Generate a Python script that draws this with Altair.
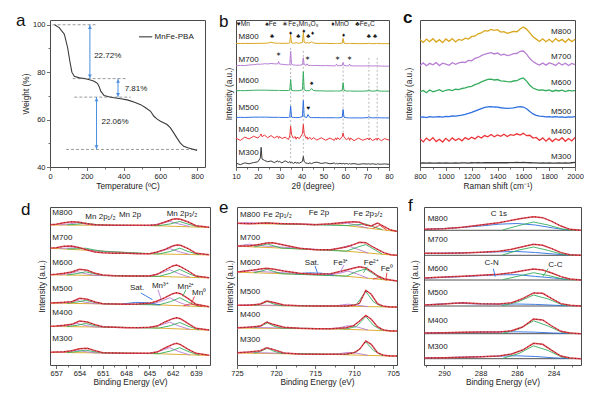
import altair as alt
import pandas as pd

FONT = "Liberation Sans"
INK = "#222222"
FRAME = "#4a4a4a"
RED = "#e8404c"
ARROW = "#4a8fe0"

SAMPLES = ["M800", "M700", "M600", "M500", "M400", "M300"]
SAMPLE_COLORS = ["#d9a61e", "#b87fd4", "#35ad5e", "#2d6fe0", "#ea3538", "#3c3c3c"]
SAMPLE_WIDTHS = [1.0, 1.0, 1.0, 1.0, 1.1, 0.9]
COMP_NAMES = ["bg", "cyan", "blue", "pink", "orange", "base"]
COMP_COLORS = ["#a874cf", "#27bcc0", "#3b7be0", "#d883d6", "#f2b705", "#3cc3d4"]

# ---------------- panel a : TGA ----------------
TGA_T = [25, 50, 78, 96, 108, 119, 132, 160, 186, 215, 240, 258, 267, 276, 294, 320, 348, 385, 420, 460,
         493, 520, 547, 565, 583, 601, 637, 655, 673, 690, 709, 727, 750, 773, 800]
TGA_W = [100, 98.8, 96, 90.3, 84.6, 80, 78.3, 77.6, 77.3, 76.8, 76.2, 75.3, 74, 72, 70.1, 69.6, 69.2, 68.8, 68.3, 67.3,
         66.3, 65, 63.5, 61.4, 60.2, 59.3, 57.9, 56.5, 54.4, 52.3, 50.1, 48.7, 48.1, 47.6, 47]
TGA_STEP_LABELS = ["22.72%", "7.81%", "22.06%"]
TGA_LABEL_T = [240, 406, 280]
TGA_LABEL_W = [87, 72.7, 58.9]
TGA_DASH_T1 = [14, 123, 132, 87]
TGA_DASH_T2 = [258, 417, 439, 800]
TGA_DASH_W = [100, 77.28, 69.47, 47.41]
TGA_ARROW_T = [217, 370, 253]
TGA_ARROW_TOP = [100, 77.28, 69.47]
TGA_ARROW_BOT = [77.28, 69.47, 47.41]
TGA_LEGEND = ["MnFe-PBA"]

# ---------------- panel b : XRD ----------------
XRD_X = [10, 12, 14, 16, 18, 20, 21.1, 21.5, 21.9, 23, 24.5, 26, 27.5, 29.1, 29.5, 29.9, 31, 32.5, 34, 34.6,
         35.0, 35.4, 36.2, 37.1, 37.5, 37.9, 39, 40.4, 40.8, 41.2, 42.1, 42.5, 42.9, 43.8, 44.6, 45.4, 47, 49, 51, 53,
         55, 55.6, 56.0, 56.4, 57.5, 58.6, 59.0, 59.4, 60.5, 61.6, 62.0, 62.4, 64, 66, 68, 70.4, 70.8, 71.2, 72.5, 74.2,
         74.6, 75.0, 76.5, 78, 80]
XRD_M800 = [0.2, 0.1, 0.2, 0.1, 0.2, 0.2, 0.2, 0.3, 0.2, 0.3, 0.4, 1.0, 0.4, 0.3, 0.3, 0.3, 0.2, 0.3, 0.3, 0.5,
            5.9, 0.6, 0.3, 0.4, 0.9, 0.4, 0.3, 0.8, 7.5, 0.9, 0.4, 0.9, 0.5, 0.5, 1.3, 0.5, 0.2, 0.2, 0.2, 0.1,
            0.1, 0.1, 0.2, 0.1, 0.2, 0.4, 3.6, 0.4, 0.1, 0.1, 0.1, 0.1, 0.1, 0.0, 0.0, 0.1, 0.4, 0.1, 0.0, 0.1,
            0.3, 0.1, 0.0, 0.0, 0.0]
XRD_M700 = [0.3, 0.5, 0.4, 0.8, 1.0, 1.4, 1.2, 1.6, 1.3, 1.7, 1.5, 1.8, 1.6, 1.5, 3.2, 1.4, 1.3, 1.0, 0.9, 1.2,
            10.2, 1.3, 0.8, 0.7, 0.6, 0.7, 0.6, 1.0, 5.7, 1.0, 0.6, 1.6, 0.6, 0.5, 0.5, 0.4, 0.5, 0.3, 0.4, 0.3,
            0.2, 0.3, 1.4, 0.3, 0.3, 0.5, 2.5, 0.5, 0.2, 0.3, 1.4, 0.3, 0.1, 0.2, 0.1, 0.2, 0.5, 0.2, 0.1, 0.2,
            0.4, 0.1, 0.1, 0.0, 0.0]
XRD_M600 = [0.2, 0.4, 0.3, 0.5, 0.6, 0.7, 0.6, 0.8, 0.6, 0.7, 0.6, 0.6, 0.5, 0.5, 0.5, 0.5, 0.4, 0.4, 0.4, 0.6,
            8.0, 0.6, 0.3, 0.3, 0.3, 0.3, 0.3, 0.9, 13.2, 0.9, 0.3, 0.3, 0.3, 0.4, 1.8, 0.4, 0.2, 0.2, 0.1, 0.1,
            0.1, 0.1, 0.1, 0.1, 0.1, 0.5, 5.7, 0.5, 0.1, 0.1, 0.1, 0.1, 0.0, 0.0, 0.0, 0.2, 1.0, 0.2, 0.0, 0.2,
            1.0, 0.2, 0.0, 0.0, 0.0]
XRD_M500 = [0.3, 0.4, 0.3, 0.4, 0.5, 0.5, 0.5, 0.6, 0.5, 0.5, 0.5, 0.4, 0.4, 0.4, 0.4, 0.4, 0.3, 0.3, 0.3, 0.6,
            8.0, 0.6, 0.3, 0.2, 0.2, 0.2, 0.3, 0.9, 11.8, 0.9, 0.3, 0.4, 2.3, 0.3, 0.2, 0.2, 0.2, 0.1, 0.1, 0.1,
            0.1, 0.1, 0.1, 0.1, 0.1, 0.5, 5.7, 0.5, 0.1, 0.0, 0.0, 0.0, 0.0, 0.0, 0.0, 0.2, 1.0, 0.2, 0.0, 0.1,
            0.7, 0.1, 0.0, 0.0, 0.0]
XRD_M400 = [0.5, -1.0, 1.2, 0.0, 1.8, 0.6, 2.4, 3.4, 1.5, 2.6, 0.8, 2.3, 0.7, 1.9, 0.4, 1.6, 0.3, 1.2, -0.4, 2.0,
            8.6, 3.0, 0.6, 1.6, -0.2, 1.2, 0.2, 3.5, 9.8, 3.6, 0.4, 1.4, -0.3, 1.1, -0.5, 0.9, -0.8, 0.8, -0.9, 0.6,
            -1.0, 0.7, -0.6, 0.8, -0.4, 1.6, 4.0, 1.5, -0.6, 0.8, -1.0, 0.6, -1.2, 0.5, -0.9, 0.4, -0.7, 0.6, -1.1, 0.3,
            -0.9, 0.5, -1.2, 0.2, -0.8]
XRD_M300 = [0.6, -0.4, 0.8, 0.2, 1.0, 1.5, 4.0, 11.4, 3.5, 2.5, 1.6, 2.1, 1.0, 2.2, 1.3, 1.8, 0.8, 2.2, 0.9, 1.8,
            0.6, 1.4, 0.4, 1.3, 0.5, 1.0, 0.6, 1.8, 5.2, 1.6, 0.4, 0.9, 0.2, 0.8, 0.3, 0.9, 1.3, 0.4, 0.9, 0.2,
            0.7, 0.1, 0.6, 0.0, 0.5, 0.1, 0.6, 0.0, 0.4, -0.1, 0.4, 0.0, 0.3, -0.2, 0.2, 0.0, 0.3, -0.1, 0.2, -0.2,
            0.2, 0.0, -0.1, 0.1, -0.2]
XRD_BASE = [83.9, 68.6, 51.6, 33.4, 19.1, 2.0]
XRD_REF_X = [35.0, 40.8, 59.0, 70.8, 74.6]
XRD_REF_Y1 = [81, 79, 71, 74.3, 74.3]
XRD_REF_Y2 = [5, 3.9, 18.6, 17.5, 17.5]
XRD_KEY_TEXT = ["♥Mn", "♠Fe", "∗Fe₃Mn₃O₈", "♦MnO", "♣Fe₃C"]
XRD_KEY_X = [10.4, 23.4, 31.2, 53.6, 64.6]
XRD_KEY_Y = 97.0
XRD_MARK_SYM = ["♣", "♦", "♣", "♦", "♣", "♦", "♦", "♣", "♣", "∗", "∗", "∗", "∗", "♠", "♥"]
XRD_MARK_X = [26.5, 35.0, 38.5, 41.0, 43.1, 45.0, 59.2, 70.7, 73.6, 29.3, 42.9, 56.4, 62.1, 44.6, 43.1]
XRD_MARK_Y = [89.1, 91.0, 89.0, 92.6, 89.0, 91.0, 89.8, 89.1, 89.1, 77.0, 74.3, 74.3, 73.9, 57.3, 39.8]
XRD_LABEL_Y = [88.4, 73, 58.4, 40.2, 25.5, 9.5]

# ---------------- panel c : Raman ----------------
RAMAN_X = [800, 825, 850, 875, 900, 925, 950, 975, 1000, 1025, 1050, 1075, 1100, 1125, 1150, 1175, 1200, 1225,
           1250, 1275, 1300, 1325, 1350, 1375, 1400, 1425, 1450, 1475, 1500, 1525, 1550, 1575, 1600, 1625, 1650,
           1675, 1700, 1725, 1750, 1775, 1800, 1825, 1850, 1875, 1900, 1925, 1950, 1975, 2000]
RAMAN_M800 = [0.5, -1.2, 1.0, -0.8, 1.3, -1.0, 0.6, -1.4, 1.1, -0.5, 1.4, -0.9, 0.8, 0.2, 1.6, 1.0, 2.8, 3.0, 4.6, 5.2,
              6.8, 6.5, 7.6, 6.9, 7.4, 5.8, 6.1, 4.9, 5.6, 6.2, 6.0, 7.9, 9.2, 7.8, 5.2, 2.6, 1.0, -0.6, 1.2, -0.8,
              0.9, -1.1, 1.3, -0.4, 0.8, -1.2, 1.1, -0.7, 0.9]
RAMAN_M700 = [-0.8, 0.9, -1.0, 0.6, -0.4, 1.1, -0.9, 0.7, 0.1, -0.7, 1.0, 0.0, 0.9, 1.5, 1.2, 2.6, 2.4, 4.0, 4.6, 5.9,
              6.8, 7.4, 7.9, 7.0, 7.6, 6.2, 6.8, 5.9, 6.4, 7.2, 7.3, 8.8, 9.0, 6.9, 3.9, 1.8, 0.4, -0.5, 0.8, -0.6,
              0.9, 0.2, -0.8, 1.0, -0.5, 0.7, -0.9, 0.6, -0.3]
RAMAN_M600 = [-0.6, 0.5, -1.1, 0.8, -0.4, 0.2, 1.0, -0.3, 0.6, 1.0, 0.4, 1.3, 1.0, 1.8, 2.2, 2.9, 3.3, 4.4, 5.1, 6.3,
              7.2, 8.0, 8.2, 7.6, 7.9, 7.0, 6.8, 6.5, 6.3, 6.9, 7.1, 8.3, 9.0, 6.8, 4.0, 2.1, 1.2, 0.6, 0.9, 0.3,
              0.8, -0.2, 0.6, 0.1, 0.7, -0.3, 0.5, 0.2, 0.4]
RAMAN_M500 = [0.0, 0.3, -0.2, 0.4, 0.1, 0.3, 0.5, 0.2, 0.6, 0.5, 0.9, 0.8, 1.2, 1.5, 2.0, 2.6, 3.3, 4.2, 5.1, 5.9,
              6.7, 7.1, 7.3, 7.0, 6.9, 6.5, 6.3, 6.1, 6.2, 6.4, 6.9, 7.2, 7.0, 5.8, 3.9, 2.3, 1.3, 0.8, 0.6, 0.3,
              0.5, 0.2, 0.4, 0.1, 0.3, 0.0, 0.2, 0.1, 0.4]
RAMAN_M400 = [0.8, -1.4, 1.2, -0.6, 1.5, -1.2, 0.4, -1.5, 1.0, -0.9, 1.3, -0.5, 0.9, -0.7, 1.5, 0.2, 1.8, 0.6, 2.4, 1.2,
              2.9, 2.0, 3.6, 2.1, 3.3, 2.4, 3.8, 2.2, 3.5, 3.0, 4.1, 3.2, 4.4, 2.8, 3.1, 1.2, 1.6, -0.4, 1.3, -0.9,
              1.1, -1.2, 0.7, -0.5, 1.4, -1.0, 0.9, -0.8, 1.6]
RAMAN_M300 = [0.0, 0.1, -0.1, 0.1, 0.0, -0.1, 0.1, 0.0, 0.1, -0.1, 0.0, 0.1, 0.0, 0.1, 0.1, 0.0, 0.2, 0.1, 0.2, 0.1,
              0.3, 0.2, 0.3, 0.2, 0.3, 0.2, 0.3, 0.2, 0.3, 0.3, 0.4, 0.3, 0.4, 0.3, 0.2, 0.1, 0.1, 0.0, 0.1, 0.0,
              0.1, -0.1, 0.0, 0.1, 0.0, 0.1, 0.0, 0.2, 0.4]
RAMAN_BASE = [86, 69.9, 51.6, 33.8, 18.5, 2.7]
RAMAN_LABEL_Y = [91.8, 74.9, 57.1, 37.7, 23.5, 6.8]

# ---------------- panel d : Mn 2p ----------------
D_X = [657.8, 657, 656, 655, 654, 653, 652, 651, 649.5, 648, 646.5, 645, 644, 643, 642, 641.5, 641, 640, 639, 637.3]
D_ENV = [
    [140.3, 140.7, 142.3, 143.3, 142.7, 141.3, 140.3, 140, 139.7, 139.7, 139.7, 139.7, 140.3, 143, 145.7, 146.3, 145.7, 143, 139.3, 137.7],
    [117, 117.3, 118.7, 119, 117.3, 115, 113, 112.3, 111.7, 111.7, 111.3, 111.3, 113, 115.7, 119, 120, 119.7, 116.3, 111.7, 110.3],
    [90.3, 90.7, 91.7, 93, 95.7, 94.7, 91.7, 90, 89.3, 89, 89, 89, 90.7, 95, 99, 100, 98.3, 94, 89, 87.3],
    [62, 62.3, 62.7, 63.3, 66.7, 65.7, 63, 61.3, 61, 60.7, 61, 61.7, 64, 67.3, 71.3, 72.3, 71.3, 66.3, 60.7, 58.3],
    [38.7, 39, 39.7, 40.7, 44, 43, 40.3, 38.3, 37.7, 37.3, 37.3, 37.7, 39, 43, 46.3, 47.3, 46.3, 41.3, 36.7, 35],
    [12.7, 13, 13.3, 14.3, 16.3, 16.7, 14.3, 12.3, 12, 11.7, 11.7, 11.7, 13, 17, 20.7, 21.7, 20.3, 15.7, 11.7, 9.7],
]
D_BG_X = [657.8, 645, 637.3]
D_BG = [[140.0, 139.5, 137.5], [116.8, 111.2, 110.1], [90.2, 88.8, 87.1],
        [61.9, 60.5, 58.1], [38.6, 37.3, 34.8], [12.6, 11.6, 9.5]]
D_CYAN_X = [656.6, 655.3, 654.3, 653.3, 652.0, 645.0, 643.6, 642.4, 641.2, 639.8]
D_CYAN = [
    [140.1, 141.1, 142.3, 141.0, 139.9, 139.5, 141.3, 143.6, 141.0, 138.6],
    [116.6, 116.9, 117.6, 115.8, 114.2, 111.2, 113.5, 116.4, 113.3, 110.5],
    [90.1, 91.5, 93.3, 91.3, 89.6, 88.8, 91.7, 95.3, 91.3, 87.8],
    [61.8, 62.9, 64.5, 62.8, 61.3, 60.5, 63.5, 67.2, 62.7, 58.9],
    [38.5, 39.8, 41.6, 39.6, 38.0, 37.3, 39.7, 42.9, 39.0, 35.6],
    [12.5, 13.5, 14.9, 13.4, 12.1, 11.6, 14.1, 17.3, 13.4, 10.1],
]
D_BLUE_X = [655.6, 654.3, 653.2, 652.1, 650.8, 643.8, 642.3, 641.1, 639.9, 638.6]
D_BLUE = [
    [140.1, 140.8, 141.8, 140.7, 139.8, 139.3, 141.1, 143.5, 140.6, 138.0],
    [116.1, 116.3, 116.8, 115.1, 113.5, 111.0, 113.6, 116.8, 113.2, 110.3],
    [90.0, 91.4, 93.2, 91.2, 89.4, 88.6, 91.7, 95.6, 91.2, 87.5],
    [61.7, 63.0, 64.6, 62.7, 61.1, 60.1, 63.3, 67.3, 62.5, 58.5],
    [38.4, 39.7, 41.5, 39.5, 37.9, 36.9, 39.3, 42.5, 38.5, 35.2],
    [12.4, 13.5, 14.8, 13.3, 12.0, 11.3, 13.9, 17.3, 13.2, 9.8],
]
D_SAT_X = [648.5, 646.8, 645.2, 643.6]
D_SAT_M500 = [61.0, 62.6, 62.3, 60.1]
D_MN0_X = [640.6, 639.8, 639.0, 638.2]
D_MN0_M500 = [59.2, 61.0, 60.0, 58.4]
D_LABEL_Y = [151.7, 127.3, 102.3, 75.7, 51.7, 25.7]
D_NOTE_TEXT = ["Mn 2p₁/₂", "Mn 2p", "Mn 2p₃/₂", "Sat.", "Mn³⁺", "Mn²⁺", "Mn⁰"]
D_NOTE_X = [651.3, 647.5, 640.8, 646.6, 643.6, 640.3, 638.6]
D_NOTE_Y = [148.3, 150.5, 151.3, 77.0, 78.7, 77.7, 72.0]
D_PTR_X1 = [646.1, 643.9, 640.3, 639.2]
D_PTR_Y1 = [72.0, 75.3, 75.3, 68.5]
D_PTR_X2 = [644.6, 643.5, 640.7, 639.6]
D_PTR_Y2 = [65.3, 66.0, 68.7, 61.5]
D_PTR_COMP = ["pink", "cyan", "blue", "orange"]

# ---------------- panel e : Fe 2p ----------------
E_X = [725, 723.5, 722, 721.2, 720.4, 719, 717, 715, 713, 711, 710, 709.3, 708.5, 707.8, 707, 706.2, 705.3, 704.5]
E_ENV = [
    [141.7, 141.3, 141.7, 142, 141.7, 141.3, 141, 140.3, 141.3, 142.7, 143.3, 142.7, 140, 139, 142, 138.7, 135, 133.7],
    [119, 119, 120.7, 122, 122.3, 120, 116.7, 115.3, 115.3, 118, 120.7, 122.7, 122.3, 119, 115.7, 112.3, 110.3, 109.7],
    [93, 94.3, 96, 96.7, 96, 94, 91.7, 90.7, 91.3, 95, 97, 98.3, 97, 93.7, 89.3, 86.3, 85, 84],
    [59.7, 59.7, 61, 64, 62.7, 60, 59.3, 59, 59, 59, 59.7, 61.7, 74.7, 70.7, 61.3, 58.7, 58, 58],
    [37.3, 37.7, 39, 43, 40.7, 37.7, 36.7, 36.3, 36.3, 37.3, 39.7, 44, 49.7, 45.7, 38.3, 35, 34, 34],
    [12.3, 13, 14.3, 17.3, 15.7, 12, 11, 10.7, 10.7, 11, 12.3, 15.7, 24, 20.7, 12.3, 9.7, 9, 9],
]
E_BG_X = [725, 712, 704.5]
E_BG = [[141.5, 140.3, 133.5], [118.8, 114.5, 109.5], [92.8, 89.5, 84.0],
        [59.6, 58.9, 57.9], [37.0, 36.0, 33.8], [12.0, 10.4, 8.8]]
E_CYAN_X = [725.0, 724.2, 723.4, 722.6, 713.4, 712.0, 710.8, 709.6, 708.2]
E_CYAN = [
    [141.5, 142.3, 142.4, 141.8, 140.4, 141.3, 141.8, 139.6, 136.9],
    [118.8, 120.0, 120.8, 119.5, 115.0, 116.5, 119.2, 116.0, 112.0],
    [92.8, 94.0, 94.8, 93.7, 89.9, 91.5, 94.0, 91.0, 86.7],
    [59.6, 60.1, 60.4, 59.9, 59.1, 59.6, 60.8, 59.8, 58.4],
    [37.0, 37.6, 38.1, 37.5, 36.2, 37.0, 39.3, 38.0, 35.0],
    [12.0, 12.6, 13.0, 12.4, 10.6, 11.2, 12.6, 11.8, 9.6],
]
E_BLUE_X = [722.8, 721.9, 721.1, 720.3, 719.3, 711.0, 709.7, 708.5, 707.5, 706.4]
E_BLUE = [
    [141.3, 141.8, 142.4, 141.6, 141.0, 139.4, 140.3, 141.0, 138.2, 135.4],
    [118.1, 119.6, 121.0, 119.2, 116.9, 113.8, 117.5, 120.4, 116.0, 110.9],
    [92.2, 94.0, 95.6, 93.6, 91.3, 88.8, 93.4, 96.0, 91.0, 85.5],
    [59.5, 61.0, 63.4, 61.0, 59.3, 58.8, 60.5, 73.5, 63.0, 58.2],
    [37.1, 39.2, 42.0, 39.0, 36.9, 36.2, 38.5, 48.5, 39.5, 34.6],
    [12.0, 14.0, 16.8, 13.8, 11.6, 10.6, 13.0, 23.0, 14.5, 9.5],
]
E_FE0_X = [707.6, 706.7, 705.8]
E_FE0_M800 = [136.6, 139.8, 134.8]
E_FE0_M600 = [85.9, 87.6, 84.6]
E_SAT_X = [717.5, 715.8, 714.2, 712.6]
E_SAT_M600 = [91.1, 92.2, 91.8, 89.8]
E_LABEL_Y = [149.7, 127.3, 102.3, 73, 49.7, 24.7]
E_NOTE_TEXT = ["Fe 2p₁/₂", "Fe 2p", "Fe 2p₃/₂", "Sat.", "Fe³⁺", "Fe²⁺", "Fe⁰"]
E_NOTE_X = [719.8, 714.5, 708.2, 715.4, 711.7, 707.8, 705.8]
E_NOTE_Y = [149.7, 151.7, 150.7, 101.7, 102.3, 102.3, 96.3]
E_PTR_X1 = [715.0, 711.3, 708.3, 705.8]
E_PTR_Y1 = [99.0, 100.0, 98.3, 92.3]
E_PTR_X2 = [714.7, 711.8, 708.8, 705.9]
E_PTR_Y2 = [92.3, 92.3, 92.3, 86.3]
E_PTR_COMP = ["pink", "cyan", "blue", "orange"]

# ---------------- panel f : C 1s ----------------
F_X = [291.1, 290, 289, 288, 287, 286.3, 285.7, 285.1, 284.6, 284.1, 283.6, 283.1, 282.5]
F_ENV = [
    [135.7, 136.3, 137.7, 140, 142.3, 144.7, 146.7, 148.3, 147.3, 143.7, 139, 135.7, 134.7],
    [111.7, 111.7, 112, 112.7, 113.7, 115.7, 118.3, 120.7, 119.7, 116.3, 112.3, 110.3, 109.7],
    [87, 88, 88.7, 89.7, 90.7, 92.3, 94.3, 96, 95, 92, 88.3, 86, 85],
    [60, 61, 62.3, 61.3, 61, 62.3, 66.3, 72, 71.7, 66.3, 61.3, 59.7, 59],
    [32, 32.3, 32.7, 33, 33, 34.3, 38, 46, 45, 39, 33.7, 32, 31.3],
    [7, 7.3, 7.7, 8.3, 9, 11, 15, 21.7, 20.7, 14.7, 9, 7, 6.3],
]
F_BASE_X = [291.1, 282.5]
F_BASE_LEVEL = [134.7, 109.7, 85.0, 59.0, 31.3, 6.3]
F_PINK_X = [291.1, 289.5, 288, 287, 286, 285, 284, 283.2]
F_PINK = [
    [135.6, 137.0, 139.0, 140.8, 141.5, 140.0, 137.0, 135.0],
    [111.7, 112.0, 112.6, 113.2, 113.5, 112.5, 111.0, 110.0],
    [86.8, 88.0, 89.3, 90.2, 90.3, 88.6, 87.0, 85.5],
    [60.0, 61.8, 61.0, 60.8, 61.0, 60.6, 59.8, 59.2],
    [32.0, 32.4, 32.8, 33.0, 33.2, 32.8, 32.0, 31.5],
    [7.0, 7.6, 8.3, 8.9, 9.2, 8.5, 7.2, 6.5],
]
F_BLUE_X = [286.8, 285.9, 285.1, 284.3, 283.5, 282.8]
F_BLUE = [
    [135.0, 139.5, 143.0, 140.0, 135.8, 134.8],
    [110.0, 115.0, 118.0, 114.6, 110.5, 109.8],
    [85.3, 89.0, 92.3, 89.5, 86.0, 85.1],
    [59.3, 63.5, 70.0, 66.0, 60.0, 59.1],
    [31.6, 36.0, 44.2, 39.0, 32.4, 31.4],
    [6.6, 11.5, 19.2, 14.5, 7.5, 6.4],
]
F_LABEL_Y = [145.7, 125, 96.3, 71.7, 44, 18.3]
F_NOTE_TEXT = ["C 1s", "C-N", "C-C"]
F_NOTE_X = [287.0, 287.4, 283.9]
F_NOTE_Y = [150.7, 101.7, 99.7]
F_PTR_X1 = [287.3, 284.3]
F_PTR_Y1 = [96.3, 96.3]
F_PTR_X2 = [287.2, 284.6]
F_PTR_Y2 = [88.3, 88.3]
F_PTR_COMP = ["pink", "blue"]


# ================= helpers =================
def cond_tick(test):
    return {"condition": {"test": test, "value": 3.5}, "value": 2.0}


def xaxis(values, test, title, lp, tp, fmt="d"):
    return alt.Axis(values=values, title=title, labelExpr=f"({test}) ? datum.label : ''", format=fmt,
                    tickSize=cond_tick(test), labelPadding=lp, titlePadding=tp,
                    labelOverlap=False, labelFlush=False)


def hidden_y(tp):
    return alt.Axis(labels=False, ticks=False, title="Intensity (a.u.)", titlePadding=tp)


def letter(ch, dx, dy, weight="normal"):
    return alt.Chart(pd.DataFrame({"t": [ch]})).mark_text(
        align="left", baseline="alphabetic", fontSize=17, font=FONT, color="#111", fontWeight=weight
    ).encode(x=alt.value(dx), y=alt.value(dy), text="t:N")


def texts(X, Y, xs, ys, labels, align="left", size=8, color=INK):
    df = pd.DataFrame({"x": xs, "y": ys, "t": labels})
    return alt.Chart(df).mark_text(align=align, baseline="middle", fontSize=size, font=FONT, color=color).encode(
        x=X("x"), y=Y("y"), text="t:N")


SAMPLE_SCALE = alt.Scale(domain=SAMPLES, range=SAMPLE_COLORS)
COMP_SCALE = alt.Scale(domain=COMP_NAMES, range=COMP_COLORS)


# ================= panel a =================
def panel_a():
    xs = alt.Scale(domain=[0, 843], nice=False, zero=False)
    ys = alt.Scale(domain=[40, 102], nice=False, zero=False)
    xax = xaxis([0, 100, 200, 300, 400, 500, 600, 700, 800], "datum.value % 200 === 0", "Temperature (ºC)", 1.5, 1.5)
    yax = alt.Axis(values=[40, 50, 60, 70, 80, 90, 100], title="Weight (%)",
                   labelExpr="(datum.value % 20 === 0) ? datum.label : ''",
                   tickSize=cond_tick("datum.value % 20 === 0"), labelPadding=1.5, titlePadding=2,
                   labelOverlap=False)

    def X(f):
        return alt.X(f"{f}:Q", scale=xs, axis=xax)

    def Y(f):
        return alt.Y(f"{f}:Q", scale=ys, axis=yax)

    curve = alt.Chart(pd.DataFrame({"x": TGA_T, "y": TGA_W})).mark_line(color="#3a3a3a", strokeWidth=1.1).encode(
        x=X("x"), y=Y("y"))
    dashes = alt.Chart(pd.DataFrame({"x": TGA_DASH_T1, "x2": TGA_DASH_T2, "y": TGA_DASH_W})).mark_rule(
        color="#808080", strokeDash=[3, 2], strokeWidth=0.8).encode(x=X("x"), x2="x2:Q", y=Y("y"))
    arrows = alt.Chart(pd.DataFrame({"x": TGA_ARROW_T, "y": TGA_ARROW_TOP, "y2": TGA_ARROW_BOT})).mark_rule(
        color=ARROW, strokeWidth=1).encode(x=X("x"), y=Y("y"), y2="y2:Q")
    head_up = alt.Chart(pd.DataFrame({"x": TGA_ARROW_T, "y": TGA_ARROW_TOP})).mark_point(
        shape="triangle-up", filled=True, size=16, color=ARROW, opacity=1, yOffset=2.5).encode(x=X("x"), y=Y("y"))
    head_dn = alt.Chart(pd.DataFrame({"x": TGA_ARROW_T, "y": TGA_ARROW_BOT})).mark_point(
        shape="triangle-down", filled=True, size=16, color=ARROW, opacity=1, yOffset=-2.5).encode(x=X("x"), y=Y("y"))
    labels = texts(X, Y, TGA_LABEL_T, TGA_LABEL_W, TGA_STEP_LABELS, size=8)
    leg_line = alt.Chart(pd.DataFrame({"x": [484], "x2": [556], "y": [94.9]})).mark_rule(
        color="#3a3a3a", strokeWidth=1.1).encode(x=X("x"), x2="x2:Q", y=Y("y"))
    leg_text = texts(X, Y, [569], [94.9], TGA_LEGEND, size=8)
    return alt.layer(dashes, arrows, head_up, head_dn, curve, labels, leg_line, leg_text,
                     letter("a", -34, 6)).properties(width=155, height=147)


# ================= panel b =================
def panel_b():
    xs = alt.Scale(domain=[10, 80], nice=False, zero=False)
    ys = alt.Scale(domain=[0, 100], nice=False, zero=False)
    xax = xaxis([10, 15, 20, 25, 30, 35, 40, 45, 50, 55, 60, 65, 70, 75, 80], "datum.value % 10 === 0",
                "2θ (degree)", 1.5, 1.5)
    yax = hidden_y(3)

    def X(f):
        return alt.X(f"{f}:Q", scale=xs, axis=xax)

    def Y(f):
        return alt.Y(f"{f}:Q", scale=ys, axis=yax)

    data = [XRD_M800, XRD_M700, XRD_M600, XRD_M500, XRD_M400, XRD_M300]
    rows = []
    for s, base, ys_ in zip(SAMPLES, XRD_BASE, data):
        for x, dy in zip(XRD_X, ys_):
            rows.append({"x": x, "y": dy + base, "s": s})
    lines = alt.Chart(pd.DataFrame(rows)).mark_line().encode(
        x=X("x"), y=Y("y"), color=alt.Color("s:N", scale=SAMPLE_SCALE, legend=None),
        strokeWidth=alt.StrokeWidth("s:N", scale=alt.Scale(domain=SAMPLES, range=SAMPLE_WIDTHS), legend=None))
    refs = alt.Chart(pd.DataFrame({"x": XRD_REF_X, "y": XRD_REF_Y1, "y2": XRD_REF_Y2})).mark_rule(
        color="#9a9a9a", strokeDash=[2, 2], strokeWidth=0.7).encode(x=X("x"), y=Y("y"), y2="y2:Q")
    key = texts(X, Y, XRD_KEY_X, [XRD_KEY_Y] * len(XRD_KEY_X), XRD_KEY_TEXT, size=6.6)
    marks = texts(X, Y, XRD_MARK_X, XRD_MARK_Y, XRD_MARK_SYM, align="center", size=6.2, color="#111")
    labels = texts(X, Y, [11.2] * 6, XRD_LABEL_Y, SAMPLES, size=8)
    return alt.layer(refs, lines, key, marks, labels, letter("b", -17, 7)).properties(width=153, height=147)


# ================= panel c =================
def panel_c():
    xs = alt.Scale(domain=[800, 2000], nice=False, zero=False)
    ys = alt.Scale(domain=[0, 100], nice=False, zero=False)
    xax = xaxis([800, 900, 1000, 1100, 1200, 1300, 1400, 1500, 1600, 1700, 1800, 1900, 2000],
                "datum.value % 200 === 0", "Raman shift (cm⁻¹)", 1.5, 1.5)
    yax = hidden_y(7)

    def X(f):
        return alt.X(f"{f}:Q", scale=xs, axis=xax)

    def Y(f):
        return alt.Y(f"{f}:Q", scale=ys, axis=yax)

    data = [RAMAN_M800, RAMAN_M700, RAMAN_M600, RAMAN_M500, RAMAN_M400, RAMAN_M300]
    rows = []
    for s, base, ys_ in zip(SAMPLES, RAMAN_BASE, data):
        for x, dy in zip(RAMAN_X, ys_):
            rows.append({"x": x, "y": dy + base, "s": s})
    lines = alt.Chart(pd.DataFrame(rows)).mark_line(strokeWidth=1.3).encode(
        x=X("x"), y=Y("y"), color=alt.Color("s:N", scale=SAMPLE_SCALE, legend=None))
    labels = texts(X, Y, [1970] * 6, RAMAN_LABEL_Y, SAMPLES, align="right", size=8)
    return alt.layer(lines, labels, letter("c", -17, 3, "bold")).properties(width=155, height=147)


# ================= XPS panels =================
def comp_rows(xs, series, comp, samples=SAMPLES):
    rows = []
    for s, ys_ in zip(samples, series):
        for x, y in zip(xs, ys_):
            rows.append({"x": x, "y": y, "key": s + comp, "comp": comp})
    return rows


def xps_panel(dom, w, h, ticks, test, comps, env, xgrid, label_x, label_y, notes, ptrs, let, ldx, ldy, ytp, fmt):
    xs = alt.Scale(domain=dom, nice=False, zero=False)
    ys = alt.Scale(domain=[0, h], nice=False, zero=False)
    xax = xaxis(ticks, test, "Binding Energy (eV)", 0.5, 0.5, fmt)
    yax = hidden_y(ytp)

    def X(f):
        return alt.X(f"{f}:Q", scale=xs, axis=xax)

    def Y(f):
        return alt.Y(f"{f}:Q", scale=ys, axis=yax)

    comp_layer = alt.Chart(pd.DataFrame(comps)).mark_line(strokeWidth=0.9).encode(
        x=X("x"), y=Y("y"), color=alt.Color("comp:N", scale=COMP_SCALE, legend=None), detail="key:N")
    env_df = pd.DataFrame(comp_rows(xgrid, env, "env"))
    env_layer = alt.Chart(env_df).mark_line(color=RED, strokeWidth=1.4).encode(
        x=X("x"), y=Y("y"), detail="key:N")
    dots = alt.Chart(env_df).mark_line(color="#1a1a1a", strokeWidth=0.9, strokeDash=[1, 2.5], opacity=0.75).encode(
        x=X("x"), y=Y("y"), detail="key:N")
    labels = texts(X, Y, [label_x] * 6, label_y, SAMPLES, size=8)
    note_layer = texts(X, Y, notes[1], notes[2], notes[0], align="center", size=8)
    ptr_df = pd.DataFrame({"x": ptrs[0], "y": ptrs[1], "x2": ptrs[2], "y2": ptrs[3], "comp": ptrs[4]})
    ptr_layer = alt.Chart(ptr_df).mark_rule(strokeWidth=0.9).encode(
        x=X("x"), y=Y("y"), x2="x2:Q", y2="y2:Q", color=alt.Color("comp:N", scale=COMP_SCALE, legend=None))
    return alt.layer(comp_layer, env_layer, dots, ptr_layer, labels, note_layer,
                     letter(let, ldx, ldy)).properties(width=w, height=h)


def panel_d():
    comps = (comp_rows(D_BG_X, D_BG, "bg") + comp_rows(D_CYAN_X, D_CYAN, "cyan") +
             comp_rows(D_BLUE_X, D_BLUE, "blue") + comp_rows(D_SAT_X, [D_SAT_M500], "pink", ["M500"]) +
             comp_rows(D_MN0_X, [D_MN0_M500], "orange", ["M500"]))
    ticks = [657, 655.5, 654, 652.5, 651, 649.5, 648, 646.5, 645, 643.5, 642, 640.5, 639]
    return xps_panel([657.8, 637.2], 160, 158, ticks, "(657 - datum.value) % 3 === 0", comps, D_ENV, D_X,
                     657.5, D_LABEL_Y, (D_NOTE_TEXT, D_NOTE_X, D_NOTE_Y),
                     (D_PTR_X1, D_PTR_Y1, D_PTR_X2, D_PTR_Y2, D_PTR_COMP), "d", -29, 7.5, 4, "d")


def panel_e():
    comps = (comp_rows(E_BG_X, E_BG, "bg") + comp_rows(E_CYAN_X, E_CYAN, "cyan") +
             comp_rows(E_BLUE_X, E_BLUE, "blue") + comp_rows(E_SAT_X, [E_SAT_M600], "pink", ["M600"]) +
             comp_rows(E_FE0_X, [E_FE0_M800, E_FE0_M600], "orange", ["M800", "M600"]))
    ticks = [725, 722.5, 720, 717.5, 715, 712.5, 710, 707.5, 705]
    return xps_panel([725, 704.5], 160, 158, ticks, "datum.value % 5 === 0", comps, E_ENV, E_X,
                     724.6, E_LABEL_Y, (E_NOTE_TEXT, E_NOTE_X, E_NOTE_Y),
                     (E_PTR_X1, E_PTR_Y1, E_PTR_X2, E_PTR_Y2, E_PTR_COMP), "e", -18, 6, 3, "d")


def panel_f():
    base = [[lv, lv] for lv in F_BASE_LEVEL]
    comps = (comp_rows(F_BASE_X, base, "base") + comp_rows(F_PINK_X, F_PINK, "pink") +
             comp_rows(F_BLUE_X, F_BLUE, "blue"))
    ticks = [291, 290, 289, 288, 287, 286, 285, 284, 283]
    return xps_panel([291.1, 282.5], 157, 158, ticks, "datum.value % 2 === 0", comps, F_ENV, F_X,
                     290.9, F_LABEL_Y, (F_NOTE_TEXT, F_NOTE_X, F_NOTE_Y),
                     (F_PTR_X1, F_PTR_Y1, F_PTR_X2, F_PTR_Y2, F_PTR_COMP), "f", -16, 4, 5, "d")


row1 = alt.hconcat(panel_a(), panel_b(), panel_c(), spacing=31, bounds="flush")
row2 = alt.hconcat(panel_d(), panel_e(), panel_f(), spacing=27, bounds="flush")

chart = alt.vconcat(row1, row2, spacing=6).properties(
    padding={"left": 7, "top": 0, "right": 0, "bottom": 2}
).configure_view(
    stroke=FRAME, strokeWidth=1
).configure_axis(
    labelFont=FONT, labelFontSize=7.5, titleFont=FONT, titleFontSize=8.3, titleFontWeight="normal",
    labelColor=INK, titleColor=INK, tickColor=FRAME, tickWidth=0.8, domain=False, grid=False
).configure_text(font=FONT)

chart.save("out.html", embed_options={"renderer": "svg", "actions": False})
